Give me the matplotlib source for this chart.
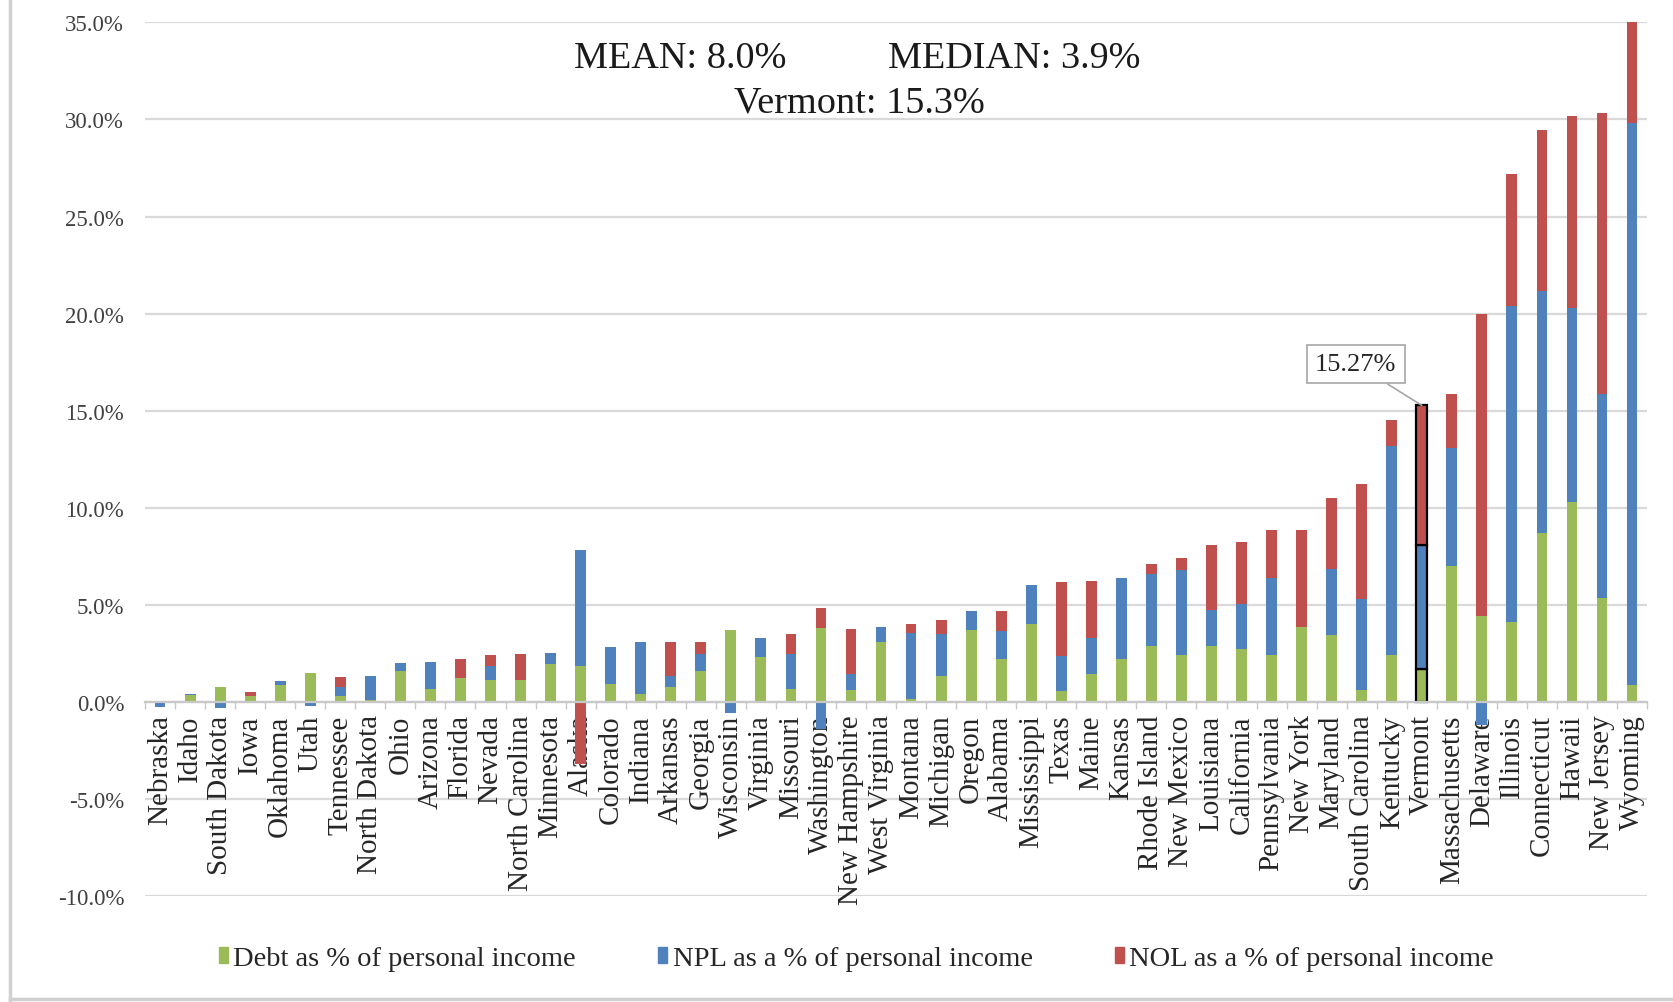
import numpy as np
import matplotlib
matplotlib.use("Agg")
import matplotlib.pyplot as plt
from matplotlib.patches import Patch
from matplotlib.lines import Line2D

plt.rcParams['font.family'] = ['Liberation Serif', 'DejaVu Serif']

states = ["Nebraska", "Idaho", "South Dakota", "Iowa", "Oklahoma", "Utah", "Tennessee",
          "North Dakota", "Ohio", "Arizona", "Florida", "Nevada", "North Carolina",
          "Minnesota", "Alaska", "Colorado", "Indiana", "Arkansas", "Georgia", "Wisconsin",
          "Virginia", "Missouri", "Washington", "New Hampshire", "West Virginia", "Montana",
          "Michigan", "Oregon", "Alabama", "Mississippi", "Texas", "Maine", "Kansas",
          "Rhode Island", "New Mexico", "Louisiana", "California", "Pennsylvania",
          "New York", "Maryland", "South Carolina", "Kentucky", "Vermont", "Massachusetts",
          "Delaware", "Illinois", "Connecticut", "Hawaii", "New Jersey", "Wyoming"]

# % of personal income
debt = [0.0, 0.35, 0.75, 0.3, 0.85, 1.5, 0.3, 0.1, 1.6, 0.65, 1.25, 1.15, 1.15, 1.95,
        1.85, 0.9, 0.4, 0.75, 1.6, 3.7, 2.3, 0.65, 3.8, 0.6, 3.1, 0.15, 1.35, 3.7, 2.2,
        4.0, 0.55, 1.45, 2.2, 2.9, 2.4, 2.9, 2.7, 2.4, 3.85, 3.45, 0.6, 2.4, 1.7, 7.0,
        4.4, 4.1, 8.7, 10.3, 5.35, 0.85]
npl = [-0.25, 0.05, -0.3, 0.0, 0.2, -0.2, 0.45, 1.25, 0.4, 1.4, 0.0, 0.7, 0.0, 0.55,
       5.95, 1.9, 2.7, 0.6, 0.85, -0.6, 1.0, 1.8, -1.4, 0.85, 0.75, 3.4, 2.15, 1.0, 1.45,
       2.0, 1.8, 1.85, 4.2, 3.7, 4.4, 1.85, 2.35, 4.0, 0.0, 3.4, 4.7, 10.8, 6.4, 6.1,
       -1.2, 16.3, 12.45, 10.0, 10.5, 28.95]
nol = [0.0, 0.0, 0.0, 0.2, 0.0, 0.0, 0.55, 0.0, 0.0, 0.0, 0.95, 0.55, 1.3, 0.0,
       -3.2, 0.0, 0.0, 1.75, 0.65, 0.0, 0.0, 1.05, 1.05, 2.3, 0.0, 0.45, 0.7, 0.0, 1.05,
       0.0, 3.8, 2.9, 0.0, 0.5, 0.6, 3.35, 3.2, 2.45, 5.0, 3.65, 5.9, 1.3, 7.17, 2.75,
       15.6, 6.8, 8.3, 9.9, 14.5, 5.2]

series = [("Debt as % of personal income", debt, "#9BBB59"),
          ("NPL as a % of personal income", npl, "#4F81BD"),
          ("NOL as a % of personal income", nol, "#C0504D")]

highlight = "Vermont"
highlight_total = 15.27
yticks = np.arange(-10, 36, 5)

fig = plt.figure(figsize=(16.73, 10.03), dpi=100)
ax = fig.add_axes([0.0867, 0.1057, 0.8978, 0.871])

# gridlines drawn by hand so the tick labels sit above them
for t in yticks:
    ax.axhline(t, color="#d9d9d9", lw=1.6, zorder=0.1)

x = np.arange(len(states))
pos_base = np.zeros(len(states))
neg_base = np.zeros(len(states))
hi = states.index(highlight)
for label, vals, color in series:
    v = np.array(vals)
    bottom = np.where(v >= 0, pos_base, neg_base)
    bars = ax.bar(x, v, 0.36, bottom=bottom, color=color, label=label, zorder=2)
    bars[hi].set_edgecolor("black")
    bars[hi].set_linewidth(1.6)
    pos_base += np.where(v >= 0, v, 0)
    neg_base += np.where(v < 0, v, 0)

ax.set_xlim(-0.5, len(states) - 0.5)
ax.set_ylim(-10, 35)
ax.set_yticks(yticks)
ax.set_yticklabels([f"{t:.1f}%" for t in yticks])
ax.set_axisbelow(True)

for s in ["top", "right", "left"]:
    ax.spines[s].set_visible(False)
ax.spines["bottom"].set_position(("data", 0))
ax.spines["bottom"].set_color("#c8c8c8")
ax.spines["bottom"].set_linewidth(1.6)

ax.set_xticks(x)
ax.set_xticklabels(states, rotation=90, va="top", ha="center", fontsize=21, color="#262626")
ax.set_xticks(np.arange(-0.5, len(states), 1), minor=True)
ax.tick_params(axis="x", which="major", length=0, pad=9)
ax.tick_params(axis="x", which="minor", length=5, color="#c8c8c8", width=1)
ax.tick_params(axis="y", length=0, pad=15, labelsize=16.5, labelcolor="#404040")

# summary text
fig.text(574 / 1673, 1 - 59 / 1003, "MEAN: 8.0%", fontsize=27.5, ha="left", va="center", color="#1a1a1a")
fig.text(1140 / 1673, 1 - 59 / 1003, "MEDIAN: 3.9%", fontsize=27.5, ha="right", va="center", color="#1a1a1a")
fig.text(859 / 1673, 1 - 103 / 1003, "Vermont: 15.3%", fontsize=27.5, ha="center", va="center", color="#1a1a1a")

ax.annotate(f"{highlight_total:.2f}%", xy=(hi, highlight_total), xytext=(39.8, 17.4),
            fontsize=19, ha="center", va="center", color="#262626",
            bbox=dict(boxstyle="square,pad=0.32", fc="white", ec="#a6a6a6", lw=1.2),
            arrowprops=dict(arrowstyle="-", color="#a6a6a6", lw=1.2, shrinkA=0, shrinkB=0))

handles = [Patch(color=c, label=l) for l, _, c in series]
fig.legend(handles=handles, loc="center", bbox_to_anchor=(0.512, 0.043), ncol=3,
           frameon=False, fontsize=20.5, handlelength=0.3, handleheight=0.5,
           handletextpad=0.2, columnspacing=2.9, labelcolor="#262626")

# chart frame pieces
fig.add_artist(Line2D([10 / 1673, 10 / 1673], [0, 1], color="#d0d0d0", lw=2.5))
fig.add_artist(Line2D([10 / 1673, 1], [3 / 1003, 3 / 1003], color="#d0d0d0", lw=2.5))

fig.savefig("out.png", dpi=100)
